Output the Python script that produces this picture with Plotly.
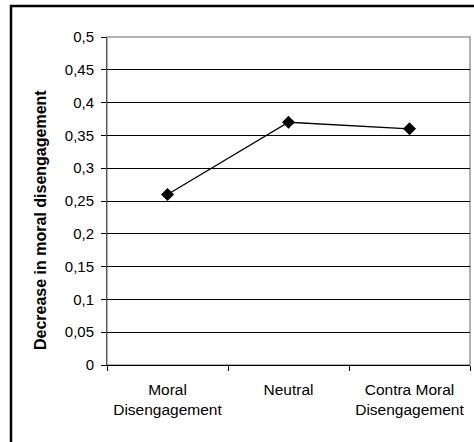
import plotly.graph_objects as go

categories = ["Moral<br>Disengagement", "Neutral", "Contra Moral<br>Disengagement"]
values = [0.26, 0.37, 0.36]
y_ticks = [0, 0.05, 0.1, 0.15, 0.2, 0.25, 0.3, 0.35, 0.4, 0.45, 0.5]
y_title = "Decrease in moral disengagement"

W, H = 474, 442
L, R, T, B = 107, 470, 37, 365
pw, ph = R - L, B - T

def px_x(p):
    return (p - L) / pw

def px_y(p):
    return (B - p) / ph

fig = go.Figure()
fig.add_trace(go.Scatter(
    x=categories, y=values, mode="lines+markers",
    line=dict(color="black", width=1.3),
    marker=dict(symbol="diamond", size=10, color="black"),
    showlegend=False, cliponaxis=False,
))

fig.update_layout(
    width=W, height=H,
    margin=dict(l=L, r=W - R, t=T, b=H - B),
    paper_bgcolor="white", plot_bgcolor="white",
    separators=",.",
    font=dict(family="Liberation Sans, Arial, sans-serif", size=15, color="black"),
    xaxis=dict(
        type="category", range=[-0.5, 2.5],
        showgrid=False, showline=True, linecolor="black", linewidth=1,
        ticks="outside", tickson="boundaries", ticklen=5, tickcolor="black",
        tickfont=dict(size=15.5), zeroline=False, ticklabelstandoff=10,
    ),
    yaxis=dict(
        range=[0, 0.5], tickvals=y_ticks,
        showgrid=True, gridcolor="black", gridwidth=1,
        showline=True, linecolor="#555555", linewidth=1,
        ticks="outside", ticklen=5, tickcolor="black",
        tickfont=dict(size=15), zeroline=False, ticklabelstandoff=4,
    ),
    annotations=[
        dict(text="<b>" + y_title + "</b>", xref="paper", yref="paper",
             x=px_x(41), y=px_y(220), textangle=-90, showarrow=False,
             xanchor="center", yanchor="middle", font=dict(size=16)),
    ],
    shapes=[
        dict(type="rect", xref="paper", yref="paper", x0=0, x1=1, y0=0, y1=1,
             line=dict(color="#999999", width=1.5), layer="below"),
        dict(type="rect", xref="paper", yref="paper",
             x0=px_x(11), x1=px_x(490), y0=px_y(460), y1=px_y(6),
             line=dict(color="black", width=2.5)),
    ],
)

fig.write_html("out.html", config={"displayModeBar": False},
               post_script="document.body.style.margin='0px';document.body.style.overflow='hidden';")
